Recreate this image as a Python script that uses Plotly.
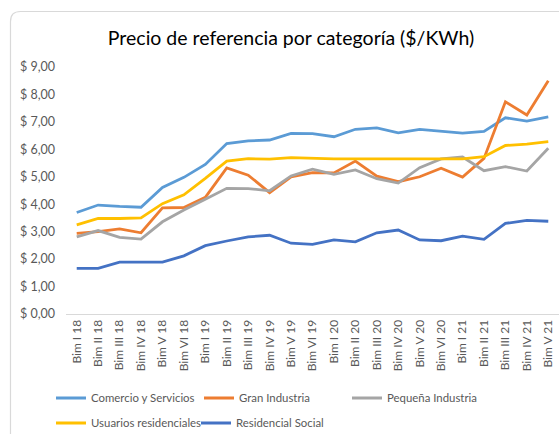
import plotly.graph_objects as go

categories = ["Bim I 18", "Bim II 18", "Bim III 18", "Bim IV 18", "Bim V 18", "Bim VI 18",
              "Bim I 19", "Bim II 19", "Bim III 19", "Bim IV 19", "Bim V 19", "Bim VI 19",
              "Bim I 20", "Bim II 20", "Bim III 20", "Bim IV 20", "Bim V 20", "Bim VI 20",
              "Bim I 21", "Bim II 21", "Bim III 21", "Bim IV 21", "Bim V 21"]

comercio = [3.70, 3.97, 3.92, 3.89, 4.61, 4.98, 5.45, 6.21, 6.31, 6.34, 6.58, 6.57,
            6.46, 6.73, 6.78, 6.60, 6.73, 6.67, 6.59, 6.65, 7.15, 7.03, 7.18]
gran_industria = [2.94, 3.00, 3.10, 2.96, 3.87, 3.88, 4.25, 5.32, 5.06, 4.42, 5.00, 5.15,
                  5.14, 5.57, 5.02, 4.82, 5.00, 5.31, 4.99, 5.67, 7.73, 7.25, 8.50]
pequena_industria = [2.81, 3.04, 2.79, 2.73, 3.36, 3.79, 4.18, 4.58, 4.57, 4.49, 5.03, 5.28,
                     5.09, 5.25, 4.93, 4.77, 5.33, 5.65, 5.72, 5.22, 5.37, 5.21, 6.04]
usuarios_residenciales = [3.25, 3.48, 3.48, 3.50, 4.02, 4.34, 4.94, 5.57, 5.66, 5.64, 5.70, 5.67,
                          5.65, 5.65, 5.65, 5.65, 5.66, 5.65, 5.65, 5.73, 6.14, 6.19, 6.28]
residencial_social = [1.66, 1.66, 1.89, 1.89, 1.89, 2.12, 2.49, 2.66, 2.81, 2.87, 2.58, 2.54,
                      2.70, 2.63, 2.96, 3.06, 2.70, 2.67, 2.84, 2.72, 3.30, 3.41, 3.38]

series_names = ["Comercio y Servicios", "Gran Industria", "Pequeña Industria",
                "Usuarios residenciales", "Residencial Social"]
series_values = [comercio, gran_industria, pequena_industria, usuarios_residenciales, residencial_social]
series_colors = ["#5B9BD5", "#ED7D31", "#A5A5A5", "#FFC000", "#4472C4"]
series_legend = ["legend", "legend", "legend", "legend2", "legend2"]

y_tick_values = [0, 1, 2, 3, 4, 5, 6, 7, 8, 9]
y_tick_labels = ["$ 0,00", "$ 1,00", "$ 2,00", "$ 3,00", "$ 4,00",
                 "$ 5,00", "$ 6,00", "$ 7,00", "$ 8,00", "$ 9,00"]

title_text = "Precio de referencia por categoría ($/KWh)"

FONT = "Lato"
fig = go.Figure()
for name, vals, col, lg in zip(series_names, series_values, series_colors, series_legend):
    fig.add_trace(go.Scatter(x=categories, y=vals, mode="lines", name=name, legend=lg,
                             line=dict(color=col, width=2.8)))

W, H = 559, 434
ml, mr, mt, mb = 66, 0, 67, 120
pw, ph = W - ml - mr, H - mt - mb

def px_x(x):
    return (x - ml) / pw

def px_y(y):
    return (H - mb - y) / ph

# card border (rounded top-left corner), drawn in paper coordinates
x0, y0, r = 10.5, 11.5, 10
path = (f"M {px_x(x0)},{px_y(H + 5)} L {px_x(x0)},{px_y(y0 + r)} "
        f"Q {px_x(x0)},{px_y(y0)} {px_x(x0 + r)},{px_y(y0)} L {px_x(W + 5)},{px_y(y0)}")

legend_common = dict(orientation="h", xref="container", yref="container",
                     xanchor="left", yanchor="middle", entrywidthmode="pixels",
                     traceorder="normal", font=dict(size=11.4, color="#595959"),
                     itemwidth=30, bgcolor="rgba(0,0,0,0)")

fig.update_layout(
    width=W, height=H,
    margin=dict(l=ml, r=mr, t=mt, b=mb, autoexpand=False),
    paper_bgcolor="white", plot_bgcolor="white",
    font=dict(family=FONT, color="#595959", size=12),
    title=dict(text=title_text, x=291 / W, xref="container", xanchor="center",
               y=1 - 38 / H, yanchor="middle", yref="container",
               font=dict(family=FONT, size=19.5, color="#000000")),
    xaxis=dict(type="category", range=[-0.5, 22.5], tickangle=-90, automargin=False,
               showgrid=False, showline=True, linecolor="#D9D9D9", linewidth=1,
               ticks="", tickfont=dict(size=12, color="#595959"), fixedrange=True),
    yaxis=dict(range=[0, 9], tickvals=y_tick_values, ticktext=y_tick_labels, automargin=False,
               showgrid=False, zeroline=False, showline=False, ticks="",
               ticklabelstandoff=10,
               tickfont=dict(size=12.5, color="#595959"), fixedrange=True),
    legend=dict(x=51 / W, y=1 - 398 / H, entrywidth=103, **legend_common),
    legend2=dict(x=51 / W, y=1 - 423 / H, entrywidth=100, **legend_common),
    shapes=[dict(type="path", path=path, xref="paper", yref="paper",
                 line=dict(color="#D9D9D9", width=1.2), layer="below")],
    showlegend=True,
)

fig.write_html("out.html", config={"displayModeBar": False},
               post_script="document.body.style.margin='0';document.body.style.padding='0';")
